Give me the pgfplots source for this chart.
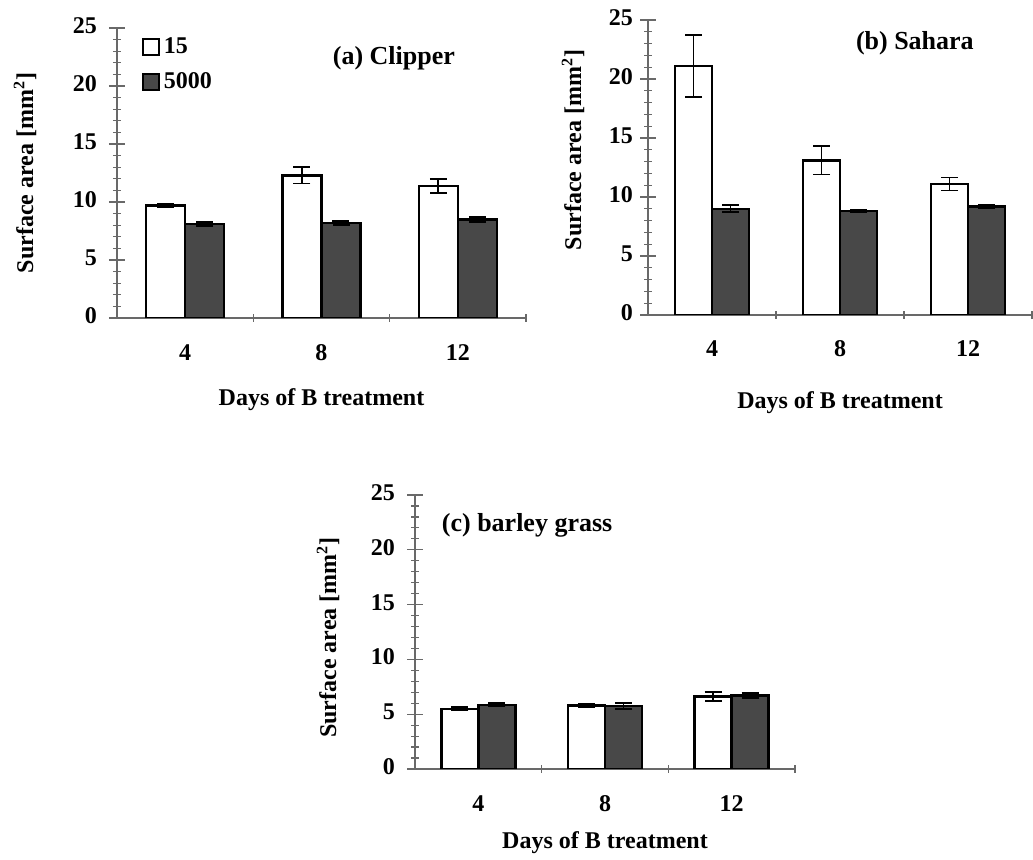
\documentclass[border=0pt]{standalone}
\usepackage{fontspec}
\setmainfont{Liberation Serif}
\usepackage{pgfplots}
\pgfplotsset{compat=1.18}
\definecolor{darkbar}{RGB}{72,72,72}
\definecolor{axgray}{RGB}{105,105,105}

\pgfplotsset{
 panel/.style={
  scale only axis,
  ybar=0pt,
  ymin=0, ymax=25,
  xmin=-0.5, xmax=2.5,
  axis x line=bottom, axis y line=left,
  axis line style={-, draw=axgray, line width=0.7pt},
  ytick={0,5,10,15,20,25},
  minor y tick num=4,
  xtick={0,1,2}, xticklabels={4,8,12},
  minor xtick={0.5,1.5,2.5},
  tick style={draw=axgray, line width=0.6pt},
  major x tick style={draw=none},
  tick align=center,
  major tick length=8pt, minor tick length=4pt,
  /pgf/number format/assume math mode=true,
  typeset ticklabels with strut,
  tick label style={font=\bfseries\fontsize{12}{14}\selectfont},
  yticklabel style={xshift=-2.5pt},
  label style={font=\bfseries\fontsize{12}{14}\selectfont},
  xlabel={Days of B treatment},
  ylabel={Surface area [mm\textsuperscript{2}]},
  enlarge x limits=false,
  error bars/error bar style={black, line width=0.9pt},
  error bars/error mark options={rotate=90, black, mark size=4.25pt, line width=0.9pt},
 },
 wbar/.style={fill=white, draw=black, line width=1.2pt,
   error bars/y dir=both, error bars/y explicit,
   legend image code/.code={\draw[##1, line width=1pt] (0pt,-4pt) rectangle (8pt,4pt);}},
 dbar/.style={fill=darkbar, draw=black, line width=1.2pt,
   error bars/y dir=both, error bars/y explicit,
   legend image code/.code={\draw[##1, line width=1pt] (0pt,-4pt) rectangle (8pt,4pt);}},
}

\pgfplotstableread{
x y e
0 9.7 0.15
1 12.3 0.7
2 11.4 0.6
}\clipperA
\pgfplotstableread{
x y e
0 8.1 0.2
1 8.2 0.15
2 8.5 0.2
}\clipperB
\pgfplotstableread{
x y e
0 21.1 2.6
1 13.1 1.2
2 11.1 0.55
}\saharaA
\pgfplotstableread{
x y e
0 9.0 0.3
1 8.8 0.1
2 9.2 0.1
}\saharaB
\pgfplotstableread{
x y e
0 5.5 0.15
1 5.8 0.15
2 6.6 0.4
}\barleyA
\pgfplotstableread{
x y e
0 5.85 0.15
1 5.75 0.3
2 6.7 0.25
}\barleyB

\begin{document}
\begin{tikzpicture}
\useasboundingbox (0,0) rectangle (516.5pt,430pt);

% (a) Clipper
\begin{axis}[panel,
  at={(58.5pt,271pt)}, anchor=south west,
  width=204.5pt, height=145pt,
  bar width=19.5pt,
  xticklabel style={yshift=-4pt},
  xlabel style={at={(axis description cs:0.5,0)}, anchor=center, yshift=-41pt},
  ylabel style={at={(axis description cs:0,0.5)}, anchor=center, yshift=46pt},
  legend style={at={(rel axis cs:0.06,0.995)}, anchor=north west, draw=none, fill=none,
    font=\bfseries\fontsize{12}{14}\selectfont, row sep=4pt, inner xsep=0pt,
    legend cell align=left},
]
\addplot[wbar] table[x=x, y=y, y error=e] {\clipperA};
\addplot[dbar] table[x=x, y=y, y error=e] {\clipperB};
\legend{15,5000}
\node[font=\bfseries\fontsize{13}{15}\selectfont] at (rel axis cs:0.677,0.897) {(a) Clipper};
\end{axis}

% (b) Sahara
\begin{axis}[panel,
  at={(324pt,272.5pt)}, anchor=south west,
  width=192pt, height=147.5pt,
  bar width=18.5pt,
  yticklabel style={xshift=2.5pt},
  xticklabel style={yshift=-3.5pt},
  xlabel style={at={(axis description cs:0.5,0)}, anchor=center, yshift=-44pt},
  ylabel style={at={(axis description cs:0,0.56)}, anchor=center, yshift=37.5pt},
]
\addplot[wbar] table[x=x, y=y, y error=e] {\saharaA};
\addplot[dbar] table[x=x, y=y, y error=e] {\saharaB};
\node[font=\bfseries\fontsize{13}{15}\selectfont] at (rel axis cs:0.695,0.922) {(b) Sahara};
\end{axis}

% (c) barley grass
\begin{axis}[panel,
  at={(207.5pt,45.5pt)}, anchor=south west,
  width=190pt, height=137pt,
  bar width=18.5pt,
  xticklabel style={yshift=-4pt},
  xlabel style={at={(axis description cs:0.5,0)}, anchor=center, yshift=-37pt},
  ylabel style={at={(axis description cs:0,0.48)}, anchor=center, yshift=43.5pt},
]
\addplot[wbar] table[x=x, y=y, y error=e] {\barleyA};
\addplot[dbar] table[x=x, y=y, y error=e] {\barleyB};
\node[font=\bfseries\fontsize{13}{15}\selectfont] at (rel axis cs:0.295,0.89) {(c) barley grass};
\end{axis}
\end{tikzpicture}
\end{document}
